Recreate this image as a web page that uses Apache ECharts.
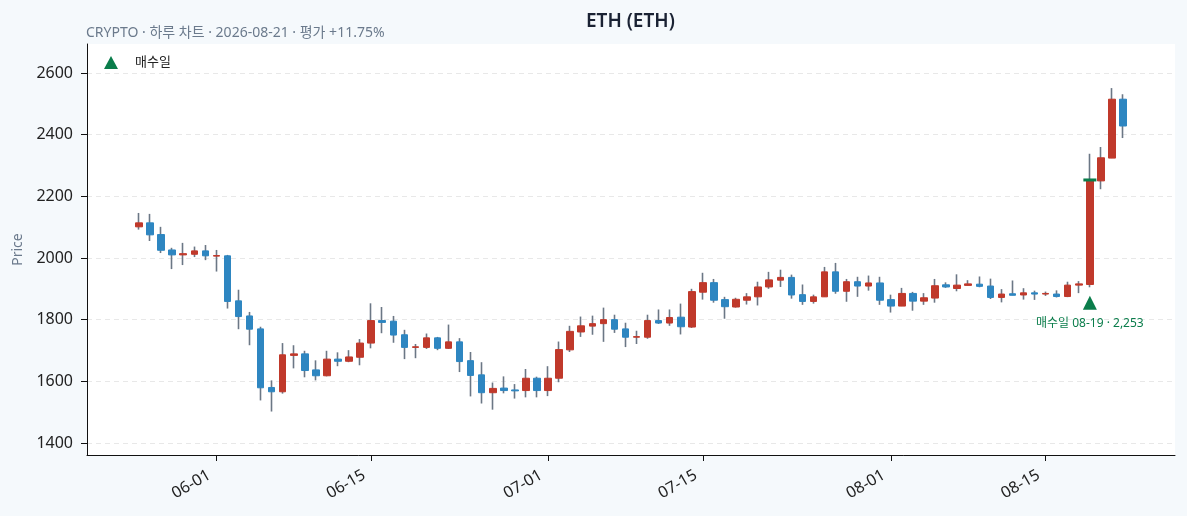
<!DOCTYPE html>
<html lang="ko">
<head>
  <meta charset="UTF-8">
  <title>ETH (ETH)</title>
  <script src="https://cdn.jsdelivr.net/npm/echarts@6/dist/echarts.min.js"></script>
  <style>
    * {margin: 0; padding: 0;}
    html, body {
      width: 100%;
      height: 100%;
      overflow: hidden;
      background-color: #f5f9fc;
    }
    #chart {
      width: 1187px;
      height: 516px;
    }
  </style>
</head>
<body>
  <div id="chart"></div>
<script>
// 일봉 데이터 (05-25 ~ 08-22)
var dates = [
  '05-25', '05-26', '05-27', '05-28', '05-29', '05-30', '05-31',
  '06-01', '06-02', '06-03', '06-04', '06-05', '06-06', '06-07', '06-08', '06-09', '06-10',
  '06-11', '06-12', '06-13', '06-14', '06-15', '06-16', '06-17', '06-18', '06-19', '06-20',
  '06-21', '06-22', '06-23', '06-24', '06-25', '06-26', '06-27', '06-28', '06-29', '06-30',
  '07-01', '07-02', '07-03', '07-04', '07-05', '07-06', '07-07', '07-08', '07-09', '07-10',
  '07-11', '07-12', '07-13', '07-14', '07-15', '07-16', '07-17', '07-18', '07-19', '07-20',
  '07-21', '07-22', '07-23', '07-24', '07-25', '07-26', '07-27', '07-28', '07-29', '07-30', '07-31',
  '08-01', '08-02', '08-03', '08-04', '08-05', '08-06', '08-07', '08-08', '08-09', '08-10',
  '08-11', '08-12', '08-13', '08-14', '08-15', '08-16', '08-17', '08-18', '08-19', '08-20',
  '08-21', '08-22'
]
var opens = [
  2101, 2114, 2076, 2026, 2010, 2012, 2023,
  2006, 2007, 1861, 1812, 1770, 1580, 1566, 1684, 1689, 1637,
  1618, 1672, 1665, 1678, 1724, 1797, 1795, 1751, 1710, 1710,
  1741, 1707, 1728, 1667, 1621, 1563, 1578, 1572, 1570, 1610,
  1570, 1610, 1702, 1760, 1779, 1787, 1800, 1770, 1743, 1743,
  1797, 1789, 1808, 1776, 1889, 1920, 1865, 1841, 1863, 1874,
  1906, 1928, 1937, 1881, 1859, 1874, 1955, 1892, 1923, 1909, 1919,
  1865, 1844, 1885, 1860, 1870, 1913, 1901, 1911, 1915, 1909,
  1872, 1884, 1880, 1887, 1883, 1883, 1875, 1912, 1914, 2250,
  2324, 2515
]
var closes = [
  2114, 2075, 2025, 2010, 2014, 2023, 2007,
  2008, 1859, 1810, 1769, 1579, 1566, 1686, 1689, 1635, 1618,
  1672, 1665, 1679, 1724, 1797, 1791, 1750, 1710, 1712, 1741,
  1707, 1728, 1664, 1619, 1563, 1577, 1570, 1569, 1610, 1570,
  1610, 1703, 1762, 1780, 1787, 1800, 1769, 1743, 1745, 1797,
  1789, 1807, 1777, 1891, 1920, 1863, 1842, 1866, 1874, 1906,
  1929, 1937, 1880, 1859, 1874, 1955, 1892, 1923, 1909, 1919, 1863,
  1844, 1885, 1860, 1871, 1910, 1906, 1912, 1916, 1908, 1872,
  1883, 1879, 1887, 1883, 1885, 1875, 1912, 1916, 2253, 2325,
  2515, 2428
]
var lows = [
  2092, 2055, 2016, 1964, 1977, 2003, 1993,
  1956, 1836, 1769, 1717, 1538, 1502, 1560, 1642, 1613, 1603,
  1616, 1649, 1662, 1652, 1707, 1756, 1725, 1672, 1675, 1705,
  1701, 1705, 1630, 1551, 1528, 1508, 1561, 1544, 1548, 1548,
  1552, 1597, 1695, 1744, 1751, 1728, 1757, 1711, 1721, 1738,
  1786, 1780, 1752, 1773, 1865, 1855, 1803, 1839, 1849, 1846,
  1900, 1906, 1868, 1848, 1852, 1874, 1884, 1858, 1874, 1894, 1848,
  1823, 1844, 1829, 1848, 1855, 1903, 1892, 1911, 1905, 1867,
  1856, 1879, 1865, 1864, 1877, 1872, 1873, 1886, 1905, 2223,
  2324, 2389
]
var highs = [
  2146, 2143, 2101, 2033, 2049, 2037, 2042,
  2026, 2010, 1897, 1825, 1777, 1603, 1724, 1717, 1699, 1668,
  1699, 1694, 1701, 1737, 1853, 1841, 1812, 1767, 1721, 1755,
  1744, 1784, 1740, 1695, 1662, 1596, 1616, 1591, 1640, 1615,
  1649, 1729, 1780, 1810, 1813, 1839, 1816, 1790, 1764, 1816,
  1833, 1833, 1852, 1900, 1952, 1932, 1874, 1871, 1886, 1923,
  1955, 1962, 1946, 1914, 1881, 1971, 1984, 1932, 1939, 1943, 1939,
  1881, 1903, 1890, 1886, 1932, 1921, 1947, 1928, 1940, 1933,
  1899, 1927, 1902, 1894, 1891, 1895, 1923, 1925, 2338, 2360,
  2551, 2531
]
var tickDates = ['06-01', '06-15', '07-01', '07-15', '08-01', '08-15']
var priceTicks = [1400, 1600, 1800, 2000, 2200, 2400, 2600]
var buyDate = '08-19'
var buyMarkY = 1855

var UP = '#c0392b'
var DOWN = '#2e86c1'
var WICK = '#6b7785'
var BUY = '#0a7d4b'
var FONT = "'Noto Sans', 'Noto Sans CJK KR', sans-serif"

window.onload = function () {
  drawChart()
}

function drawChart () {
  var wickData = dates.map((d, i) => [i, opens[i], closes[i], lows[i], highs[i]])
  var bodyData = dates.map((d, i) => [i, opens[i], closes[i],
    Math.min(opens[i], closes[i]), Math.max(opens[i], closes[i])])
  var buyIdx = dates.indexOf(buyDate)
  var buyPrice = closes[buyIdx]
  var buyLabel = '매수일 ' + buyDate + ' · ' + buyPrice.toLocaleString('en-US')
  var xTicks = tickDates.map(d => dates.indexOf(d))

  var option = {
    animation: false,
    backgroundColor: '#f5f9fc',
    textStyle: {fontFamily: FONT},
    title: [
      {
        text: 'ETH (ETH)',
        left: 586,
        top: 12,
        padding: 0,
        textStyle: {fontFamily: FONT, fontSize: 19, fontWeight: 600, color: '#1a2233'}
      },
      {
        text: 'CRYPTO · 하루 차트 · 2026-08-21 · 평가 +11.75%',
        left: 86,
        top: 26,
        padding: 0,
        textStyle: {fontFamily: FONT, fontSize: 14, fontWeight: 'normal', color: '#6b7a8c'}
      }
    ],
    legend: {
      left: 104,
      top: 56,
      padding: 0,
      itemWidth: 14,
      itemHeight: 13,
      data: ['매수일'],
      textStyle: {fontFamily: FONT, fontSize: 13, color: '#222', padding: [0, 0, 0, 12]}
    },
    grid: {
      left: 87,
      right: 12,
      top: 44,
      bottom: 61,
      show: true,
      backgroundColor: '#fff',
      borderWidth: 0
    },
    xAxis: {
      type: 'value',
      min: -4.7,
      max: 93.7,
      axisLine: {show: true, onZero: false, lineStyle: {color: '#111', width: 1}},
      axisTick: {
        show: true,
        length: 6,
        lineStyle: {color: '#111'},
        customValues: xTicks
      },
      axisLabel: {
        rotate: 30,
        fontSize: 16,
        color: '#222',
        margin: 15,
        padding: [0, 8, 0, 0],
        customValues: xTicks,
        formatter: function (v) { return dates[Math.round(v)] || '' }
      },
      splitLine: {show: false}
    },
    yAxis: {
      type: 'value',
      min: 1361,
      max: 2694,
      name: 'Price',
      nameLocation: 'middle',
      nameGap: 59,
      nameTextStyle: {fontFamily: FONT, fontSize: 14, color: '#6b7a8c'},
      axisLine: {show: true, onZero: false, lineStyle: {color: '#111', width: 1}},
      axisTick: {show: true, length: 6, lineStyle: {color: '#111'}, customValues: priceTicks},
      axisLabel: {
        fontSize: 16,
        color: '#222',
        margin: 14,
        customValues: priceTicks,
        formatter: function (v) { return String(v) }
      },
      splitLine: {show: true, lineStyle: {color: '#e8e8e8', type: [5, 4], width: 1}}
    },
    series: [
      {
        name: 'wick',
        type: 'candlestick',
        encode: {x: 0, y: [1, 2, 3, 4]},
        barWidth: 1,
        itemStyle: {color: WICK, color0: WICK, borderColor: WICK, borderColor0: WICK, borderWidth: 1.6},
        emphasis: {disabled: true},
        data: wickData
      },
      {
        name: 'body',
        type: 'candlestick',
        encode: {x: 0, y: [1, 2, 3, 4]},
        barWidth: 7,
        itemStyle: {color: UP, color0: DOWN, borderColor: UP, borderColor0: DOWN, borderWidth: 1},
        emphasis: {disabled: true},
        data: bodyData
      },
      {
        name: 'buyLine',
        type: 'scatter',
        symbol: 'rect',
        symbolSize: [13, 3],
        itemStyle: {color: BUY, opacity: 1},
        z: 5,
        data: [[buyIdx, buyPrice]]
      },
      {
        name: '매수일',
        type: 'scatter',
        symbol: 'triangle',
        symbolSize: 14,
        itemStyle: {color: BUY, opacity: 1},
        z: 5,
        label: {
          show: true,
          position: 'bottom',
          distance: 8,
          fontFamily: FONT,
          fontSize: 12,
          color: BUY,
          formatter: buyLabel
        },
        data: [[buyIdx, buyMarkY]]
      }
    ]
  }
  var chart = echarts.init(document.getElementById('chart'))
  chart.setOption(option)
}
</script>
</body>
</html>
